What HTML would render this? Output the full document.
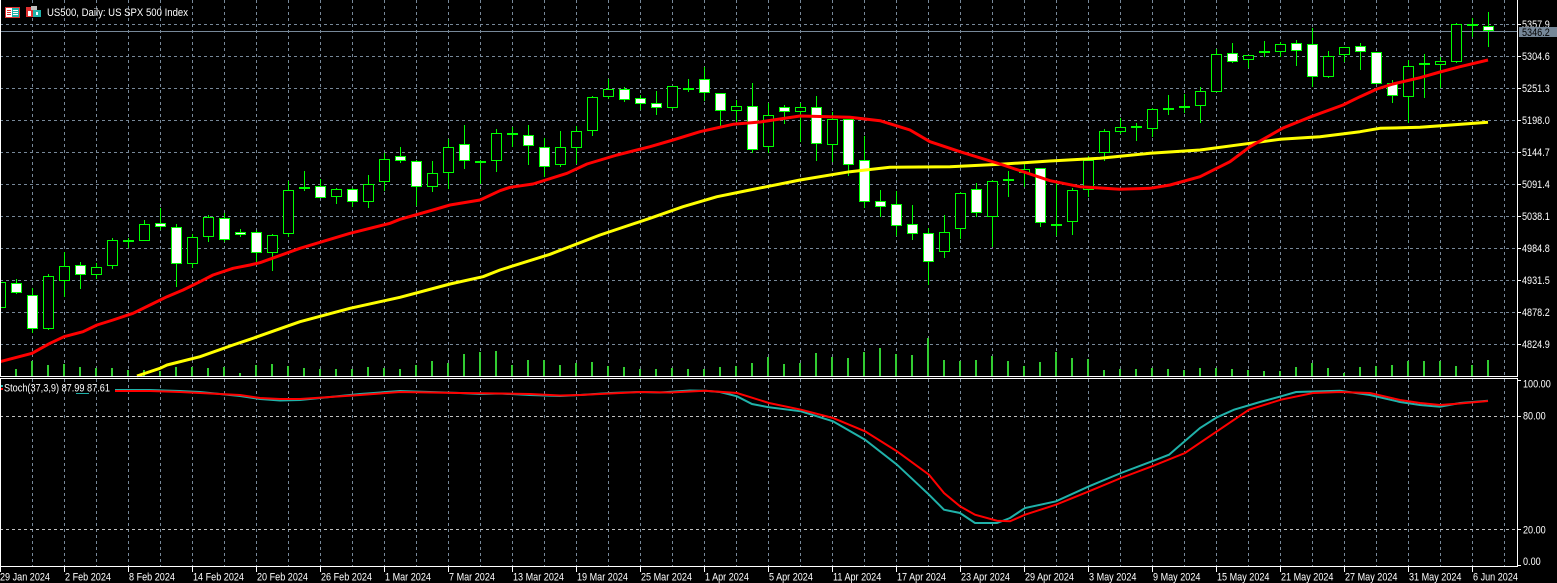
<!DOCTYPE html>
<html><head><meta charset="utf-8"><style>
html,body{margin:0;padding:0;background:#000;}
svg{display:block;}
text{font-family:"Liberation Sans",sans-serif;font-size:11px;fill:#fff;}
</style></head><body>
<svg width="1557" height="583" viewBox="0 0 1557 583" xmlns="http://www.w3.org/2000/svg">
<rect x="0" y="0" width="1557" height="583" fill="#000"/>
<!-- grid main -->
<g stroke="#778899" stroke-width="1" stroke-dasharray="3,3" fill="none">
<path d="M0 24.5H1517M0 56.5H1517M0 88.5H1517M0 120.5H1517M0 152.5H1517M0 184.5H1517M0 216.5H1517M0 248.5H1517M0 280.5H1517M0 312.5H1517M0 344.5H1517"/>
<path d="M32.5 0V376M64.5 0V376M96.5 0V376M128.5 0V376M160.5 0V376M192.5 0V376M224.5 0V376M256.5 0V376M288.5 0V376M320.5 0V376M352.5 0V376M384.5 0V376M416.5 0V376M448.5 0V376M480.5 0V376M512.5 0V376M544.5 0V376M576.5 0V376M608.5 0V376M640.5 0V376M672.5 0V376M704.5 0V376M736.5 0V376M768.5 0V376M800.5 0V376M832.5 0V376M864.5 0V376M896.5 0V376M928.5 0V376M960.5 0V376M992.5 0V376M1024.5 0V376M1056.5 0V376M1088.5 0V376M1120.5 0V376M1152.5 0V376M1184.5 0V376M1216.5 0V376M1248.5 0V376M1280.5 0V376M1312.5 0V376M1344.5 0V376M1376.5 0V376M1408.5 0V376M1440.5 0V376M1472.5 0V376M1504.5 0V376"/>
<path d="M32.5 379V567M64.5 379V567M96.5 379V567M128.5 379V567M160.5 379V567M192.5 379V567M224.5 379V567M256.5 379V567M288.5 379V567M320.5 379V567M352.5 379V567M384.5 379V567M416.5 379V567M448.5 379V567M480.5 379V567M512.5 379V567M544.5 379V567M576.5 379V567M608.5 379V567M640.5 379V567M672.5 379V567M704.5 379V567M736.5 379V567M768.5 379V567M800.5 379V567M832.5 379V567M864.5 379V567M896.5 379V567M928.5 379V567M960.5 379V567M992.5 379V567M1024.5 379V567M1056.5 379V567M1088.5 379V567M1120.5 379V567M1152.5 379V567M1184.5 379V567M1216.5 379V567M1248.5 379V567M1280.5 379V567M1312.5 379V567M1344.5 379V567M1376.5 379V567M1408.5 379V567M1440.5 379V567M1472.5 379V567M1504.5 379V567"/>
</g>
<path d="M0 416.5H1517M0 529.5H1517" stroke="#c0c0c0" stroke-width="1" stroke-dasharray="3,3"/>
<!-- bid line -->
<path d="M0 31.5H1517" stroke="#778899" stroke-width="1"/>
<!-- volumes -->
<path fill="#32cd32" d="M15 369h2V376h-2zM31 361h2V376h-2zM47 365h2V376h-2zM63 364h2V376h-2zM79 367h2V376h-2zM95 368h2V376h-2zM111 368h2V376h-2zM127 370h2V376h-2zM143 370h2V376h-2zM159 371h2V376h-2zM175 367h2V376h-2zM191 367h2V376h-2zM207 368h2V376h-2zM223 367h2V376h-2zM239 373h2V376h-2zM255 365h2V376h-2zM271 364h2V376h-2zM287 366h2V376h-2zM303 368h2V376h-2zM319 369h2V376h-2zM335 369h2V376h-2zM351 369h2V376h-2zM367 367h2V376h-2zM383 368h2V376h-2zM399 369h2V376h-2zM415 365h2V376h-2zM431 361h2V376h-2zM447 363h2V376h-2zM463 354h2V376h-2zM479 352h2V376h-2zM495 351h2V376h-2zM511 365h2V376h-2zM527 360h2V376h-2zM543 360h2V376h-2zM559 365h2V376h-2zM575 363h2V376h-2zM591 362h2V376h-2zM607 366h2V376h-2zM623 367h2V376h-2zM639 369h2V376h-2zM655 369h2V376h-2zM671 368h2V376h-2zM687 369h2V376h-2zM703 369h2V376h-2zM719 367h2V376h-2zM735 366h2V376h-2zM751 363h2V376h-2zM767 357h2V376h-2zM783 364h2V376h-2zM799 363h2V376h-2zM815 353h2V376h-2zM831 357h2V376h-2zM847 358h2V376h-2zM863 352h2V376h-2zM879 348h2V376h-2zM895 354h2V376h-2zM911 355h2V376h-2zM927 338h2V376h-2zM943 360h2V376h-2zM959 361h2V376h-2zM975 360h2V376h-2zM991 356h2V376h-2zM1007 361h2V376h-2zM1023 366h2V376h-2zM1039 362h2V376h-2zM1055 352h2V376h-2zM1071 358h2V376h-2zM1087 359h2V376h-2zM1103 370h2V376h-2zM1119 369h2V376h-2zM1135 369h2V376h-2zM1151 368h2V376h-2zM1167 369h2V376h-2zM1183 370h2V376h-2zM1199 368h2V376h-2zM1215 368h2V376h-2zM1231 369h2V376h-2zM1247 370h2V376h-2zM1263 371h2V376h-2zM1279 371h2V376h-2zM1295 367h2V376h-2zM1311 363h2V376h-2zM1327 368h2V376h-2zM1343 373h2V376h-2zM1359 367h2V376h-2zM1375 366h2V376h-2zM1391 365h2V376h-2zM1407 361h2V376h-2zM1423 361h2V376h-2zM1439 361h2V376h-2zM1455 366h2V376h-2zM1471 365h2V376h-2zM1487 360h2V376h-2z"/>
<!-- wicks -->
<path stroke="#00ff00" stroke-width="1" fill="none" d="M0.5 280V312M16.5 279V294M32.5 288V333M48.5 274V330M64.5 252V297M80.5 262V289M96.5 263V279M112.5 238V269M128.5 238V248M144.5 220V241M160.5 208V230M176.5 224V287M192.5 234V268M208.5 215V242M224.5 213V242M240.5 229V237M256.5 230V264M272.5 234V271M288.5 181V237M304.5 171V191M320.5 179V198M336.5 188V204M352.5 188V207M368.5 175V208M384.5 153V191M400.5 147V163M416.5 160V206M432.5 161V192M448.5 139V189M464.5 125V169M480.5 160V184M496.5 129V172M512.5 127V147M528.5 125V165M544.5 138V177M560.5 131V167M576.5 126V164M592.5 96V136M608.5 79V99M624.5 87V102M640.5 95V110M656.5 91V115M672.5 86V109M688.5 79V92M704.5 67V101M720.5 93V127M736.5 100V122M752.5 83V153M768.5 103V153M784.5 105V124M800.5 103V142M816.5 96V161M832.5 112V162M848.5 119V176M864.5 136V208M880.5 190V217M896.5 191V236M912.5 205V240M928.5 228V285M944.5 215V258M960.5 192V239M976.5 183V217M992.5 180V247M1008.5 171V197M1024.5 162V187M1040.5 168V227M1056.5 182V236M1072.5 188V235M1088.5 156V197M1104.5 129V161M1120.5 118V134M1136.5 123V141M1152.5 108V137M1168.5 95V115M1184.5 94V113M1200.5 87V123M1216.5 49V92M1232.5 43V63M1248.5 55V68M1264.5 41V57M1280.5 42V57M1296.5 40V66M1312.5 28V87M1328.5 51V78M1344.5 47V62M1360.5 43V70M1376.5 52V84M1392.5 80V103M1408.5 60V123M1424.5 54V98M1440.5 57V88M1456.5 23V63M1472.5 18V37M1488.5 12V47"/>
<!-- bull bodies -->
<g stroke="#00ff00" stroke-width="1" fill="#000">
<rect x="-4.5" y="282.5" width="10" height="25"/>
<rect x="43.5" y="276.5" width="10" height="52"/>
<rect x="59.5" y="266.5" width="10" height="14"/>
<rect x="91.5" y="267.5" width="10" height="7"/>
<rect x="107.5" y="240.5" width="10" height="25"/>
<rect x="139.5" y="224.5" width="10" height="16"/>
<rect x="187.5" y="237.5" width="10" height="26"/>
<rect x="203.5" y="217.5" width="10" height="19"/>
<rect x="267.5" y="235.5" width="10" height="17"/>
<rect x="283.5" y="190.5" width="10" height="43"/>
<rect x="331.5" y="189.5" width="10" height="7"/>
<rect x="363.5" y="184.5" width="10" height="17"/>
<rect x="379.5" y="159.5" width="10" height="22"/>
<rect x="427.5" y="173.5" width="10" height="13"/>
<rect x="443.5" y="147.5" width="10" height="25"/>
<rect x="491.5" y="133.5" width="10" height="27"/>
<rect x="555.5" y="147.5" width="10" height="17"/>
<rect x="571.5" y="131.5" width="10" height="16"/>
<rect x="587.5" y="97.5" width="10" height="33"/>
<rect x="603.5" y="89.5" width="10" height="7"/>
<rect x="667.5" y="86.5" width="10" height="21"/>
<rect x="731.5" y="106.5" width="10" height="4"/>
<rect x="763.5" y="115.5" width="10" height="31"/>
<rect x="795.5" y="107.5" width="10" height="4"/>
<rect x="827.5" y="119.5" width="10" height="25"/>
<rect x="939.5" y="232.5" width="10" height="19"/>
<rect x="955.5" y="193.5" width="10" height="35"/>
<rect x="987.5" y="181.5" width="10" height="35"/>
<rect x="1019.5" y="169.5" width="10" height="3"/>
<rect x="1067.5" y="190.5" width="10" height="31"/>
<rect x="1083.5" y="160.5" width="10" height="29"/>
<rect x="1099.5" y="131.5" width="10" height="21"/>
<rect x="1115.5" y="127.5" width="10" height="4"/>
<rect x="1147.5" y="109.5" width="10" height="19"/>
<rect x="1195.5" y="91.5" width="10" height="14"/>
<rect x="1211.5" y="54.5" width="10" height="37"/>
<rect x="1243.5" y="55.5" width="10" height="4"/>
<rect x="1275.5" y="44.5" width="10" height="7"/>
<rect x="1323.5" y="56.5" width="10" height="20"/>
<rect x="1339.5" y="47.5" width="10" height="7"/>
<rect x="1403.5" y="66.5" width="10" height="30"/>
<rect x="1435.5" y="61.5" width="10" height="3"/>
<rect x="1451.5" y="24.5" width="10" height="37"/>
</g>
<!-- bear bodies -->
<g stroke="#00ff00" stroke-width="1" fill="#fff">
<rect x="11.5" y="283.5" width="10" height="9"/>
<rect x="27.5" y="295.5" width="10" height="33"/>
<rect x="75.5" y="265.5" width="10" height="9"/>
<rect x="155.5" y="223.5" width="10" height="3"/>
<rect x="171.5" y="227.5" width="10" height="36"/>
<rect x="219.5" y="218.5" width="10" height="21"/>
<rect x="235.5" y="232.5" width="10" height="2"/>
<rect x="251.5" y="232.5" width="10" height="20"/>
<rect x="315.5" y="186.5" width="10" height="11"/>
<rect x="347.5" y="189.5" width="10" height="12"/>
<rect x="395.5" y="156.5" width="10" height="4"/>
<rect x="411.5" y="161.5" width="10" height="25"/>
<rect x="459.5" y="144.5" width="10" height="16"/>
<rect x="523.5" y="135.5" width="10" height="10"/>
<rect x="539.5" y="147.5" width="10" height="19"/>
<rect x="619.5" y="89.5" width="10" height="10"/>
<rect x="635.5" y="98.5" width="10" height="5"/>
<rect x="651.5" y="103.5" width="10" height="4"/>
<rect x="699.5" y="79.5" width="10" height="13"/>
<rect x="715.5" y="93.5" width="10" height="17"/>
<rect x="747.5" y="106.5" width="10" height="43"/>
<rect x="779.5" y="107.5" width="10" height="4"/>
<rect x="811.5" y="107.5" width="10" height="36"/>
<rect x="843.5" y="119.5" width="10" height="45"/>
<rect x="859.5" y="160.5" width="10" height="41"/>
<rect x="875.5" y="201.5" width="10" height="5"/>
<rect x="891.5" y="204.5" width="10" height="21"/>
<rect x="907.5" y="224.5" width="10" height="9"/>
<rect x="923.5" y="233.5" width="10" height="28"/>
<rect x="971.5" y="189.5" width="10" height="23"/>
<rect x="1035.5" y="168.5" width="10" height="54"/>
<rect x="1227.5" y="53.5" width="10" height="8"/>
<rect x="1259.5" y="51.5" width="10" height="1"/>
<rect x="1291.5" y="43.5" width="10" height="7"/>
<rect x="1307.5" y="44.5" width="10" height="32"/>
<rect x="1355.5" y="46.5" width="10" height="5"/>
<rect x="1371.5" y="52.5" width="10" height="31"/>
<rect x="1387.5" y="83.5" width="10" height="12"/>
<rect x="1467.5" y="24.5" width="10" height="1"/>
<rect x="1483.5" y="26.5" width="10" height="4"/>
</g>
<!-- dojis -->
<g stroke="#00ff00" stroke-width="1" fill="#00ff00">
<rect x="123.5" y="240.5" width="10" height="1"/>
<rect x="299.5" y="187.5" width="10" height="1"/>
<rect x="475.5" y="161.5" width="10" height="1"/>
<rect x="507.5" y="133.5" width="10" height="1"/>
<rect x="683.5" y="88.5" width="10" height="1"/>
<rect x="1003.5" y="179.5" width="10" height="1"/>
<rect x="1051.5" y="224.5" width="10" height="1"/>
<rect x="1131.5" y="126.5" width="10" height="1"/>
<rect x="1163.5" y="108.5" width="10" height="1"/>
<rect x="1179.5" y="106.5" width="10" height="1"/>
<rect x="1419.5" y="63.5" width="10" height="1"/>
</g>
<!-- moving averages -->
<polyline fill="none" stroke="#ffff00" stroke-width="3" stroke-linejoin="round" points="137,376 160,368.3 167,365 200,356.7 233,345 250,339.3 300,321.7 350,308.3 400,297.3 450,284 483,276.7 500,270 550,254.3 600,235 650,218.3 683,206.7 717,196.7 750,190 800,180 850,171.7 890,167.3 950,166.7 1000,164.3 1050,161 1100,158.3 1150,153.3 1200,150 1250,143.3 1280,139.3 1320,136.7 1360,131.7 1380,128.3 1420,127.3 1488,122.3"/>
<polyline fill="none" stroke="#ff0000" stroke-width="3" stroke-linejoin="round" points="0,361.7 32,353.3 50,343.3 64,336.7 83,331.7 97,325 113,320 133,313.3 150,305 167,296.7 183,290 200,281.7 213,275 233,268.3 250,265 260,262.7 300,248.3 350,233.3 390,223.3 400,219.3 433,210 450,205 480,200 500,190.7 510,187.3 533,184 567,173.3 587,164 617,155 650,146.7 673,140 700,131.7 733,124.3 760,122 800,116 850,117.3 880,120.7 910,130 930,141.7 960,151.7 1000,164 1050,180.7 1080,186.7 1120,189.3 1150,188.3 1170,185 1200,176.7 1230,161.7 1250,146.7 1283,128 1311,116.7 1343,105 1360,96.7 1377,89 1393,84 1410,80 1420,77.7 1440,72 1460,66.7 1488,60"/>
<!-- stochastic -->
<polyline fill="none" stroke="#20b2aa" stroke-width="2" points="115,390 150,390 180,391 200,392 240,396 260,399 280,400.5 300,400 330,397 360,394 400,391 430,392 460,393 480,394 500,393.5 530,395 560,396 580,395 610,393 640,392 660,392.5 690,390.5 705,390.7 720,392 737,396.3 752,404 769,407.3 801,411.3 833,421.3 865,439.7 897,464.7 929,494.7 944,509.7 960,513 975,523 997,523 1010,518 1025,508 1056,501.3 1089,486.3 1121,473 1152,461.3 1169,454.7 1200,428 1217,417.3 1234,409.7 1260,402 1281,396.3 1296,392 1340,390.7 1370,395 1400,402 1420,405 1440,406.7 1460,403 1488,400.7"/>
<polyline fill="none" stroke="#ff0000" stroke-width="2" points="115,391 150,391 180,392 200,393 240,395 260,398 280,399 300,399 330,397 360,395 400,392 430,392.5 460,393 500,393.5 530,394 560,395.5 580,395 610,393.5 640,392 670,392.5 705,390.7 737,393 769,403 801,409.7 833,418 865,431.3 897,451.3 929,474.7 944,493 960,506.3 975,514.7 997,520.7 1010,521.3 1025,514.7 1056,504.7 1089,491.3 1121,478 1152,466.3 1185,453 1217,431.3 1249,409.7 1281,399.7 1313,393 1340,392 1370,393 1400,400 1420,403 1440,405 1460,403.5 1488,401"/>
<!-- frames -->
<g stroke="#fff" stroke-width="1" fill="none">
<path d="M0.5 0V376.5H1517.5V0"/>
<path d="M0.5 378.5H1517.5V566.5H0.5Z"/>
<path d="M1517 24.5H1521M1517 56.5H1521M1517 88.5H1521M1517 120.5H1521M1517 152.5H1521M1517 184.5H1521M1517 216.5H1521M1517 248.5H1521M1517 280.5H1521M1517 312.5H1521M1517 344.5H1521"/>
<path d="M1517 380.5H1521M1517 416.5H1521M1517 529.5H1521M1517 565.5H1521"/>
<path d="M0.5 567V572M64.5 567V572M128.5 567V572M192.5 567V572M256.5 567V572M320.5 567V572M384.5 567V572M448.5 567V572M512.5 567V572M576.5 567V572M640.5 567V572M704.5 567V572M768.5 567V572M832.5 567V572M896.5 567V572M960.5 567V572M1024.5 567V572M1088.5 567V572M1152.5 567V572M1216.5 567V572M1280.5 567V572M1344.5 567V572M1408.5 567V572M1472.5 567V572"/>
</g>
<!-- price labels -->
<text transform="translate(1522,28) scale(0.826,1)">5357.9</text>
<text transform="translate(1522,60) scale(0.826,1)">5304.6</text>
<text transform="translate(1522,92) scale(0.826,1)">5251.3</text>
<text transform="translate(1522,124) scale(0.826,1)">5198.0</text>
<text transform="translate(1522,156) scale(0.826,1)">5144.7</text>
<text transform="translate(1522,188) scale(0.826,1)">5091.4</text>
<text transform="translate(1522,220) scale(0.826,1)">5038.1</text>
<text transform="translate(1522,252) scale(0.826,1)">4984.8</text>
<text transform="translate(1522,284) scale(0.826,1)">4931.5</text>
<text transform="translate(1522,316) scale(0.826,1)">4878.2</text>
<text transform="translate(1522,348) scale(0.826,1)">4824.9</text>
<rect x="1519" y="27" width="38" height="10" fill="#778899"/>
<text transform="translate(1522,36) scale(0.826,1)" style="fill:#000">5346.2</text>
<!-- stoch labels -->
<text transform="translate(1523,387.5) scale(0.826,1)">100.00</text>
<text transform="translate(1523,419.5) scale(0.826,1)">80.00</text>
<text transform="translate(1523,533.5) scale(0.826,1)">20.00</text>
<text transform="translate(1523,565) scale(0.826,1)">0.00</text>
<!-- date labels -->
<text transform="translate(0,580.5) scale(0.826,1)">29 Jan 2024</text>
<text transform="translate(65,580.5) scale(0.826,1)">2 Feb 2024</text>
<text transform="translate(129,580.5) scale(0.826,1)">8 Feb 2024</text>
<text transform="translate(193,580.5) scale(0.826,1)">14 Feb 2024</text>
<text transform="translate(257,580.5) scale(0.826,1)">20 Feb 2024</text>
<text transform="translate(321,580.5) scale(0.826,1)">26 Feb 2024</text>
<text transform="translate(385,580.5) scale(0.826,1)">1 Mar 2024</text>
<text transform="translate(449,580.5) scale(0.826,1)">7 Mar 2024</text>
<text transform="translate(513,580.5) scale(0.826,1)">13 Mar 2024</text>
<text transform="translate(577,580.5) scale(0.826,1)">19 Mar 2024</text>
<text transform="translate(641,580.5) scale(0.826,1)">25 Mar 2024</text>
<text transform="translate(705,580.5) scale(0.826,1)">1 Apr 2024</text>
<text transform="translate(769,580.5) scale(0.826,1)">5 Apr 2024</text>
<text transform="translate(833,580.5) scale(0.826,1)">11 Apr 2024</text>
<text transform="translate(897,580.5) scale(0.826,1)">17 Apr 2024</text>
<text transform="translate(961,580.5) scale(0.826,1)">23 Apr 2024</text>
<text transform="translate(1025,580.5) scale(0.826,1)">29 Apr 2024</text>
<text transform="translate(1089,580.5) scale(0.826,1)">3 May 2024</text>
<text transform="translate(1153,580.5) scale(0.826,1)">9 May 2024</text>
<text transform="translate(1217,580.5) scale(0.826,1)">15 May 2024</text>
<text transform="translate(1281,580.5) scale(0.826,1)">21 May 2024</text>
<text transform="translate(1345,580.5) scale(0.826,1)">27 May 2024</text>
<text transform="translate(1409,580.5) scale(0.826,1)">31 May 2024</text>
<text transform="translate(1473,580.5) scale(0.826,1)">6 Jun 2024</text>
<!-- title -->
<rect x="5.5" y="7.5" width="14" height="10" fill="#fff" stroke="#e03030" stroke-width="1"/>
<path d="M7 10.5H11M7 12.5H11M7 14.5H11" stroke="#e03030" stroke-width="1"/>
<rect x="12" y="8" width="7" height="9" fill="#20b2aa"/>
<path d="M13 10.5H18M13 12.5H18M13 14.5H18" stroke="#fff" stroke-width="1"/>
<rect x="26" y="7" width="7" height="10" fill="#e03030"/>
<rect x="28" y="11" width="3" height="5" fill="#fff"/>
<rect x="31" y="6" width="6" height="4" fill="#c0c0c0"/>
<rect x="33" y="10" width="8" height="7" fill="#20b2aa"/>
<rect x="36" y="12" width="2" height="3" fill="#fff"/>
<text x="47" y="16" textLength="141" lengthAdjust="spacingAndGlyphs">US500, Daily:  US SPX 500 Index</text>
<!-- stoch label -->
<rect x="1" y="385" width="2" height="2" fill="#20b2aa"/>
<rect x="1" y="388" width="2" height="2" fill="#ff0000"/>
<text x="4" y="391.5" textLength="106" lengthAdjust="spacingAndGlyphs">Stoch(37,3,9) 87.99 87.61</text>
<path d="M76 393.5H89" stroke="#20b2aa" stroke-width="1"/>
</svg>
</body></html>
